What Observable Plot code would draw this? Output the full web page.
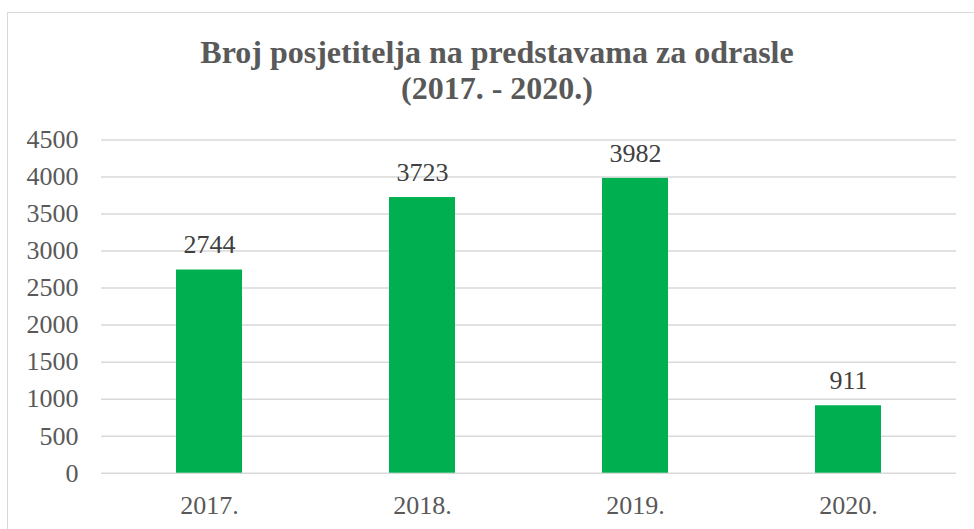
<!DOCTYPE html>
<html>
<head>
<meta charset="utf-8">
<script src="https://cdn.jsdelivr.net/npm/d3@7"></script>
<script src="https://cdn.jsdelivr.net/npm/@observablehq/plot@0.6"></script>
<style>
  html, body { margin: 0; padding: 0; background: #fff; overflow: hidden; }
  #wrap { position: relative; width: 974px; height: 529px; }
  #frame { position: absolute; left: 7px; top: 12px; width: 990px; height: 540px; border: 1px solid #d9d9d9; box-sizing: border-box; }
  #title { position: absolute; left: 10px; top: 0; width: 974px; height: 120px; text-align: center;
    font-family: "Liberation Serif", "Times New Roman", serif; font-weight: bold; font-size: 32px; color: #595959; line-height: 36px; padding-top: 34px; box-sizing: border-box; }
  #chart { position: absolute; left: 0; top: 120px; }
  #chart svg, #chart svg text, #chart svg g { font-family: "Liberation Serif", "Times New Roman", serif !important; }
</style>
</head>
<body>
<div id="wrap">
  <div id="frame"></div>
  <div id="title">Broj posjetitelja na predstavama za odrasle<br>(2017. - 2020.)</div>
  <div id="chart"></div>
</div>
<script>
const years = ["2017.", "2018.", "2019.", "2020."];
const visitors = [2744, 3723, 3982, 911];
const yTicks = [0, 500, 1000, 1500, 2000, 2500, 3000, 3500, 4000, 4500];

const data = years.map((y, i) => ({year: y, value: visitors[i]}));

const chart = Plot.plot({
  width: 974,
  height: 409,
  marginTop: 19.5,
  marginBottom: 56.3,
  marginLeft: 101,
  marginRight: 18,
  style: {fontFamily: "Liberation Serif, serif", fontSize: "26px", color: "#595959", background: "transparent"},
  x: {domain: years, paddingInner: 0.688, paddingOuter: 0.344, label: null},
  y: {domain: [0, 4500], label: null},
  marks: [
    Plot.ruleY(yTicks, {stroke: "#d9d9d9", strokeWidth: 1.5, strokeOpacity: 1}),
    Plot.barY(data, {x: "year", y: "value", fill: "#00b050"}),
    Plot.text(data, {x: "year", y: "value", text: d => String(d.value), dy: -25, fill: "#404040", fontSize: 26}),
    Plot.axisY({ticks: yTicks, tickFormat: d => String(d), tickSize: 0, tickPadding: 23, fontSize: 26, fill: "#595959", label: null}),
    Plot.axisX({tickSize: 0, tickPadding: 22, fontSize: 26, fill: "#595959", label: null})
  ]
});
chart.setAttribute("font-family", "Liberation Serif, serif");
document.getElementById("chart").appendChild(chart);
</script>
</body>
</html>
